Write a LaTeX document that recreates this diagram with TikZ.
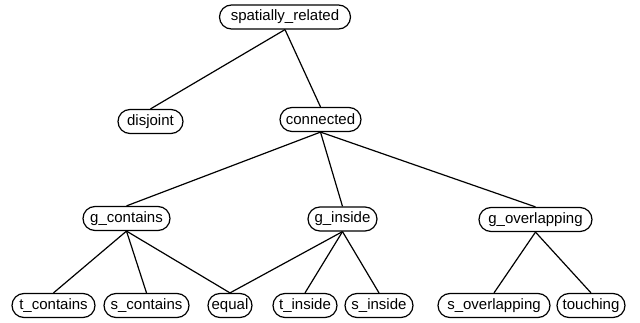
\documentclass[tikz,border=0pt]{standalone}
\usepackage{fontspec}
\setmainfont{Liberation Sans}
\begin{document}
\begin{tikzpicture}[x=1pt,y=-1pt,
  box/.style={draw,line width=1.2pt,rounded corners=12pt,minimum height=24pt,inner sep=0pt,
    font=\fontsize{15}{18}\selectfont},
  link/.style={line width=1.2pt}]
\useasboundingbox (0,0) rectangle (640,323);
\node[box,minimum width=131pt] (sr) at (285,17) {spatially\_related};
\node[box,minimum width=65pt] (dj) at (150.5,121.5) {disjoint};
\node[box,minimum width=81pt] (cn) at (320.5,119.5) {connected};
\node[box,minimum width=87pt] (gc) at (126.5,218.5) {g\_contains};
\node[box,minimum width=69pt] (gi) at (342.5,219) {g\_inside};
\node[box,minimum width=113pt] (go) at (535.5,219.5) {g\_overlapping};
\node[box,minimum width=83pt] (tc) at (53.5,305.5) {t\_contains};
\node[box,minimum width=85pt] (sc) at (146.5,305.5) {s\_contains};
\node[box,minimum width=44pt] (eq) at (230,305.5) {equal};
\node[box,minimum width=64pt] (ti) at (305,305.5) {t\_inside};
\node[box,minimum width=68pt] (si) at (379,305.5) {s\_inside};
\node[box,minimum width=112pt] (so) at (494,305.5) {s\_overlapping};
\node[box,minimum width=68pt] (to) at (591,305.5) {touching};
\draw[link] (sr.south) -- (dj.north);
\draw[link] (sr.south) -- (cn.north);
\draw[link] (cn.south) -- (gc.north);
\draw[link] (cn.south) -- (gi.north);
\draw[link] (cn.south) -- (go.north);
\draw[link] (gc.south) -- (tc.north);
\draw[link] (gc.south) -- (sc.north);
\draw[link] (gc.south) -- (eq.north);
\draw[link] (gi.south) -- (eq.north);
\draw[link] (gi.south) -- (ti.north);
\draw[link] (gi.south) -- (si.north);
\draw[link] (go.south) -- (so.north);
\draw[link] (go.south) -- (to.north);
\end{tikzpicture}
\end{document}
